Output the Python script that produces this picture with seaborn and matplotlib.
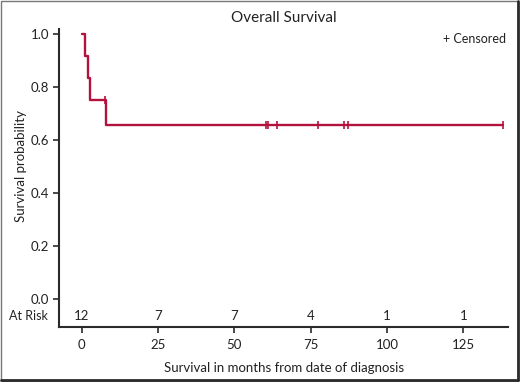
import numpy as np
import pandas as pd
import seaborn as sns
import matplotlib.pyplot as plt
from matplotlib.lines import Line2D
from matplotlib.patches import Rectangle
import matplotlib.transforms as mtransforms

# --- data -------------------------------------------------------------------
n_patients = 12
event_times = [1.1, 2.2, 2.7, 7.9]
censor_times = [7.5, 60.3, 60.9, 63.9, 77.3, 86.0, 87.3, 137.9]
risk_times = [0, 25, 50, 75, 100, 125]
at_risk = [12, 7, 7, 4, 1, 1]
y_ticks = [0.0, 0.2, 0.4, 0.6, 0.8, 1.0]

RED = "#B3123D"
DARK = "#2b2b2b"
TXT = "#222222"

# --- Kaplan-Meier steps -----------------------------------------------------
all_t = sorted([(t, 1) for t in event_times] + [(t, 0) for t in censor_times])
n = n_patients
s = 1.0
step_x, step_y = [0.0], [1.0]
cens_x, cens_y = [], []
for t, ev in all_t:
    if ev:
        s *= (n - 1) / n
        step_x.append(t)
        step_y.append(s)
    else:
        cens_x.append(t)
        cens_y.append(s)
    n -= 1
step_x.append(max(censor_times))
step_y.append(s)
curve = pd.DataFrame({"t": step_x, "s": step_y})
cens = pd.DataFrame({"t": cens_x, "s": cens_y})

# --- plot -------------------------------------------------------------------
sns.set_style("ticks")
plt.rcParams["font.family"] = ["Lato", "DejaVu Sans"]

fig = plt.figure(figsize=(5.2, 3.82), dpi=100)
ax = fig.add_axes([0.1135, 0.1448, 0.864, 0.7788])

sns.lineplot(data=curve, x="t", y="s", ax=ax, color=RED, linewidth=1.7,
             drawstyle="steps-post", estimator=None, sort=False)
sns.scatterplot(data=cens, x="t", y="s", ax=ax, color=RED, marker="|",
                s=30, linewidth=1.2, zorder=3)

ax.set_xlim(-7.4, 139.7)
ax.set_ylim(-0.103, 1.018)
ax.set_xticks(risk_times)
ax.set_yticks(y_ticks)
ax.set_yticklabels([f"{v:.1f}" for v in y_ticks])
ax.tick_params(axis="both", direction="out", length=4, width=1.2,
               color=DARK, labelsize=9.5, labelcolor=TXT, pad=3)
ax.tick_params(axis="x", pad=5)
for side in ["top", "right"]:
    ax.spines[side].set_visible(False)
for side in ["left", "bottom"]:
    ax.spines[side].set_color(DARK)
    ax.spines[side].set_linewidth(1.5)

ax.set_xlabel("Survival in months from date of diagnosis", fontsize=9.5,
              color=TXT, labelpad=8)
ax.set_ylabel("")
fig.text(0.04, (382 - 166.5) / 382, "Survival probability", rotation=90,
         ha="center", va="center", fontsize=9.5, color=TXT)
ax.set_title("Overall Survival", fontsize=11, color=TXT, pad=5)

# at-risk row
for t, r in zip(risk_times, at_risk):
    ax.text(t, -0.062, str(r), ha="center", va="center", fontsize=9.5,
            color=TXT)
trans = mtransforms.blended_transform_factory(ax.transAxes, ax.transData)
ax.text(-0.025, -0.062, "At Risk", transform=trans, ha="right", va="center",
        fontsize=9, color=TXT)

ax.text(0.995, 0.98, "+ Censored", transform=trans, ha="right", va="center",
        fontsize=9, color=TXT)

# figure frame
fig.patches.append(Rectangle((0.002, 0.003), 0.994, 0.994,
                             transform=fig.transFigure, fill=False,
                             edgecolor="#777777", linewidth=1))
fig.lines.append(Line2D([0.997, 0.997], [0.004, 0.997],
                        transform=fig.transFigure, color=DARK, linewidth=2))
fig.lines.append(Line2D([0.002, 0.997], [0.005, 0.005],
                        transform=fig.transFigure, color=DARK, linewidth=2))

fig.savefig("out.png", dpi=100)
